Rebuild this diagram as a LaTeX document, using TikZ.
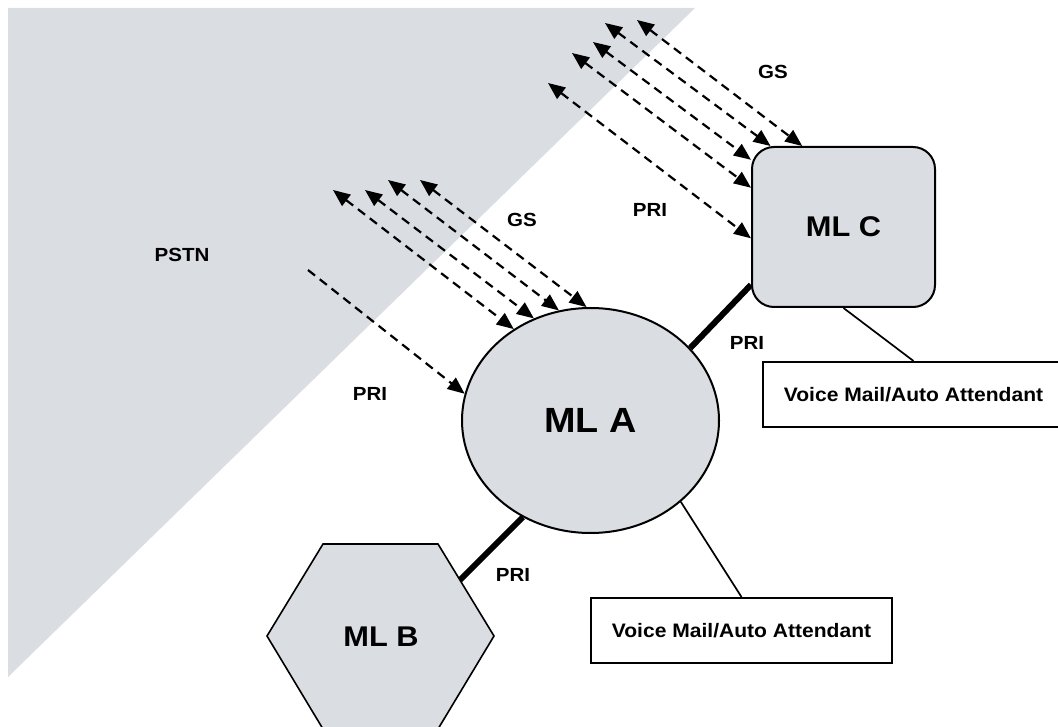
\documentclass[tikz,border=0pt]{standalone}
\usepackage{fontspec}
\setmainfont{Liberation Sans}[FakeStretch=1.08]
\usetikzlibrary{shapes.geometric,arrows.meta}
\definecolor{mlgray}{RGB}{218,221,226}
\begin{document}
\begin{tikzpicture}[x=1pt,y=-1pt,
  lab/.style={font=\fontsize{19}{22}\selectfont\bfseries, inner sep=0pt},
  sig/.style={dash pattern=on 9pt off 6pt, line width=2.2pt, >={Triangle[length=17pt,width=14pt]}},
  trunk/.style={line width=6pt},
  thinlink/.style={line width=1.7pt},
  mlshape/.style={draw, line width=2pt, fill=mlgray, inner sep=0pt},
  vmbox/.style={draw, line width=2pt, fill=white, minimum width=301pt, minimum height=65pt, inner sep=0pt, font=\fontsize{19.5}{22}\selectfont\bfseries}
]
\useasboundingbox (0,0) rectangle (1058,727);
\clip (0,0) rectangle (1058,727);
% PSTN area
\fill[mlgray] (8,8) -- (695,8) -- (8,677) -- cycle;
\node[lab] (pstn) at (182,255) {PSTN};

% nodes
\node[mlshape, ellipse, minimum width=257pt, minimum height=225pt, font=\fontsize{35}{40}\selectfont\bfseries] (A) at (590.5,420.5) {ML A};
\node[mlshape, rectangle, rounded corners=22pt, minimum width=183pt, minimum height=160pt, font=\fontsize{28.5}{32}\selectfont\bfseries] (C) at (843.5,227) {ML C};
\draw[line width=1.6pt, fill=mlgray] (323,544) -- (438,544) -- (494,636) -- (438,729) -- (323,729) -- (267,636) -- cycle;
\node[font=\fontsize{28.5}{32}\selectfont\bfseries] (B) at (381,637) {ML B};
\coordinate (Bpri) at (460,580);
\node[vmbox] (VMC) at (913.5,394.5) {Voice Mail/Auto Attendant};
\node[vmbox] (VMB) at (741.5,630.5) {Voice Mail/Auto Attendant};

% trunks
\draw[trunk] (A.235) -- (Bpri);
\draw[trunk] (A.36) -- (C.212);
\draw[thinlink] (A.-42) -- (VMB.north);
\draw[thinlink] (C.south) -- (VMC.north);

% signalling to ML A
\coordinate (a0) at (308,270);
\coordinate (a1) at (333,190);
\coordinate (a2) at (365,190);
\coordinate (a3) at (388,180);
\coordinate (a4) at (420,180);
\draw[sig,->] (a0) -- (A.168);
\draw[sig,<->] (a1) -- (A.130);
\draw[sig,<->] (a2) -- (A.119);
\draw[sig,<->] (a3) -- (A.106);
\draw[sig,<->] (a4) -- (A.92);

% signalling to ML C
\coordinate (c1) at (548,83);
\coordinate (c2) at (572,53);
\coordinate (c3) at (593,42);
\coordinate (c4) at (605,23);
\coordinate (c5) at (637,20);
\draw[sig,<->] (c1) -- (C.187);
\draw[sig,<->] (c2) -- (C.157);
\draw[sig,<->] (c3) -- (C.144);
\draw[sig,<->] (c4) -- (C.132);
\draw[sig,<->] (c5) -- (C.117);

% labels
\node[lab] (gsA) at (522,220) {GS};
\node[lab] (priA) at (370,394) {PRI};
\node[lab] (priCin) at (650,210) {PRI};
\node[lab] (priB) at (513,575) {PRI};
\node[lab] (gsC) at (773,72) {GS};
\node[lab] (priC) at (747,343) {PRI};
\end{tikzpicture}
\end{document}
